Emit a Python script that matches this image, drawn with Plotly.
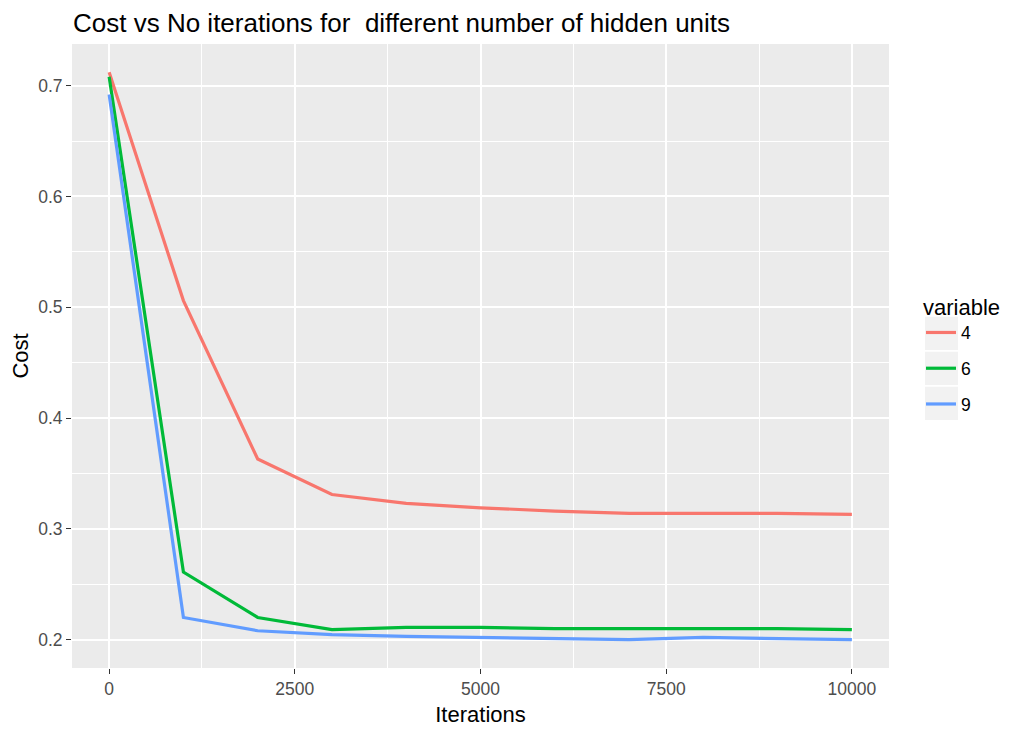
import plotly.graph_objects as go

iterations = [0, 1000, 2000, 3000, 4000, 5000, 6000, 7000, 8000, 9000, 10000]
cost_4 = [0.712, 0.506, 0.363, 0.331, 0.323, 0.319, 0.316, 0.314, 0.314, 0.314, 0.313]
cost_6 = [0.708, 0.261, 0.220, 0.209, 0.211, 0.211, 0.210, 0.210, 0.210, 0.210, 0.209]
cost_9 = [0.692, 0.220, 0.208, 0.2045, 0.203, 0.202, 0.201, 0.200, 0.202, 0.201, 0.200]
series_names = ["4", "6", "9"]
colors = ["#F8766D", "#00BA38", "#619CFF"]

W, H = 1016, 723
ML, MR, MT, MB = 64, 135, 36, 63
OFF = 8  # browser body margin


def px_x(p):
    return (p - OFF - ML) / (W - ML - MR)


def px_y(p):
    return 1 - (p - OFF - MT) / (H - MT - MB)


fig = go.Figure()
for i, (name, vals, col) in enumerate(zip(series_names, [cost_4, cost_6, cost_9], colors)):
    fig.add_trace(go.Scatter(x=iterations, y=vals, mode="lines", name=name,
                             legendgroup=name,
                             line=dict(color=col, width=3.2)))

font_family = "Liberation Sans, Arial, sans-serif"

# legend key backgrounds (ggplot style)
shapes = []
for k in range(3):
    top = 316.7 + 35 * k
    shapes.append(dict(type="rect", xref="paper", yref="paper",
                       x0=px_x(925), x1=px_x(958), y0=px_y(top + 33.3), y1=px_y(top),
                       fillcolor="#F2F2F2", line=dict(width=0), layer="below"))

fig.update_layout(
    width=W, height=H,
    margin=dict(l=ML, r=MR, t=MT, b=MB, autoexpand=False),
    paper_bgcolor="white", plot_bgcolor="#EBEBEB",
    font=dict(family=font_family, color="black"),
    title=dict(text="Cost vs No iterations for  different number of hidden units",
               x=px_x(73), xanchor="left", xref="paper",
               y=1 - (23 - OFF) / H, yanchor="middle",
               font=dict(size=26, color="black")),
    legend=dict(title=dict(text="variable", font=dict(size=22, color="black")),
                font=dict(size=17.5, color="black"),
                x=px_x(921), xanchor="left", y=px_y(286), yanchor="top",
                bgcolor="rgba(0,0,0,0)", itemwidth=30, tracegroupgap=10),
    shapes=shapes,
    showlegend=True,
)
fig.update_xaxes(
    range=[-500, 10500], tickvals=[0, 2500, 5000, 7500, 10000],
    ticktext=["0", "2500", "5000", "7500", "10000"],
    showgrid=True, gridcolor="white", gridwidth=1.9, zeroline=False,
    ticks="outside", ticklen=5, tickcolor="#333333", tickwidth=1.4,
    tickfont=dict(size=17.5, color="#4D4D4D"), automargin=False,
    title=dict(text="Iterations", font=dict(size=22, color="black"), standoff=8),
    minor=dict(tickvals=[1250, 3750, 6250, 8750], showgrid=True, gridcolor="white", gridwidth=0.95, ticks=""),
)
fig.update_yaxes(
    range=[0.1744, 0.7376], tickvals=[0.2, 0.3, 0.4, 0.5, 0.6, 0.7],
    ticktext=["0.2", "0.3", "0.4", "0.5", "0.6", "0.7"],
    showgrid=True, gridcolor="white", gridwidth=1.9, zeroline=False,
    ticks="outside", ticklen=5, tickcolor="#333333", tickwidth=1.4,
    tickfont=dict(size=17.5, color="#4D4D4D"), automargin=False,
    title=dict(text="Cost", font=dict(size=22, color="black"), standoff=8),
    minor=dict(tickvals=[0.25, 0.35, 0.45, 0.55, 0.65], showgrid=True, gridcolor="white", gridwidth=0.95, ticks=""),
)

fig.write_html("out.html")
